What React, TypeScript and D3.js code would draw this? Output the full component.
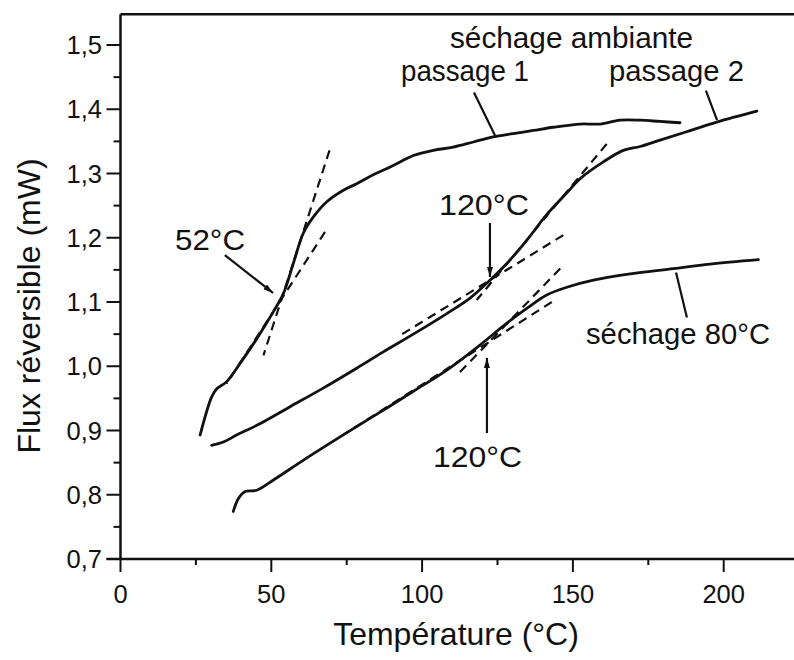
import React from "react";
import * as d3 from "d3";

// séchage ambiante, passage 1  [T (°C), flux (mW)]
const passage1: [number, number][] = [
  [26.4, 0.893], [30.2, 0.952], [31.9, 0.965], [35.2, 0.976], [39.6, 1.004],
  [45.2, 1.043], [50.7, 1.085], [54.0, 1.113], [57.3, 1.16], [60.6, 1.207],
  [63.9, 1.232], [68.4, 1.256], [73.9, 1.274], [78.3, 1.284], [83.8, 1.298],
  [88.0, 1.307], [92.7, 1.318], [97.1, 1.328], [103.7, 1.336], [110.3, 1.341],
  [117.0, 1.349], [123.6, 1.357], [130.2, 1.362], [136.9, 1.367], [143.5, 1.372],
  [152.4, 1.377], [159.0, 1.377], [165.6, 1.383], [172.3, 1.383], [178.9, 1.381],
  [185.5, 1.379],
];

// séchage ambiante, passage 2
const passage2: [number, number][] = [
  [30.2, 0.877], [34.1, 0.882], [38.5, 0.893], [45.2, 0.908], [56.2, 0.937],
  [67.2, 0.966], [78.3, 0.997], [87.0, 1.022], [97.1, 1.05], [108.2, 1.082],
  [115.9, 1.106], [122.5, 1.134], [128.1, 1.16], [134.7, 1.196], [141.3, 1.236],
  [148.0, 1.27], [152.4, 1.292], [160.1, 1.318], [166.7, 1.336],
  [172.3, 1.342], [178.9, 1.352], [187.7, 1.365], [197.7, 1.38], [211.0, 1.397],
];

// séchage 80°C
const sechage80: [number, number][] = [
  [37.4, 0.774], [39.1, 0.794], [41.3, 0.805], [45.2, 0.807], [50.7, 0.823],
  [61.7, 0.857], [72.8, 0.89], [83.8, 0.922], [89.0, 0.937], [97.1, 0.961],
  [108.2, 0.994], [119.2, 1.033], [128.1, 1.067], [134.7, 1.09], [141.3, 1.111],
  [148.0, 1.123], [156.8, 1.134], [167.8, 1.143], [183.3, 1.152], [195.5, 1.159],
  [211.5, 1.166],
];

// dashed tangents (end points)
const tangents: [number, number][][] = [
  [[69.3, 1.336], [47.4, 1.017]],
  [[67.8, 1.209], [35.2, 0.973]],
  [[161.2, 1.346], [118.1, 1.103]],
  [[146.8, 1.204], [92.7, 1.048]],
  [[145.8, 1.152], [111.5, 0.986]],
  [[143.0, 1.1], [72.8, 0.89]],
];

// arrows [from, to]
const arrows: [number, number][][] = [
  [[34.6, 1.173], [50.6, 1.114]],
  [[122.5, 1.223], [122.5, 1.139]],
  [[121.5, 0.896], [121.5, 1.013]],
];

// leader lines from labels to curves
const leaders: [number, number][][] = [
  [[117.2, 1.426], [124.5, 1.356]],
  [[194.1, 1.429], [197.8, 1.383]],
  [[184.2, 1.146], [187.8, 1.076]],
];

const xMajor = [0, 50, 100, 150, 200];
const xMinor = [25, 75, 125, 175];
const yMajor = [0.7, 0.8, 0.9, 1.0, 1.1, 1.2, 1.3, 1.4, 1.5];
const yMinor = [0.75, 0.85, 0.95, 1.05, 1.15, 1.25, 1.35, 1.45];

const W = 794;
const H = 660;

const App: React.FC = () => {
  const x = d3.scaleLinear().domain([0, 200]).range([120.5, 723.7]);
  const y = d3.scaleLinear().domain([0.7, 1.5]).range([559, 45]);

  const line = d3
    .line<[number, number]>()
    .x((d) => x(d[0]))
    .y((d) => y(d[1]))
    .curve(d3.curveCatmullRom.alpha(0.5));

  const straight = d3
    .line<[number, number]>()
    .x((d) => x(d[0]))
    .y((d) => y(d[1]));

  const yTop = y(1.548);
  const x0 = x(0);
  const y0 = y(0.7);
  const font = "'Liberation Sans', Arial, Helvetica, sans-serif";
  const ink = "#111";

  return (
    <div style={{ position: "absolute", left: 0, top: 0 }}>
      <svg width={W} height={H} style={{ display: "block", background: "#fff" }}>
        <defs>
          <marker
            id="head"
            viewBox="0 0 10 6"
            refX={10}
            refY={3}
            markerWidth={11}
            markerHeight={6}
            markerUnits="userSpaceOnUse"
            orient="auto"
          >
            <path d="M0,0 L10,3 L0,6 Z" fill={ink} />
          </marker>
        </defs>

        {/* frame: top line, left axis, bottom axis */}
        <g stroke={ink} strokeWidth={2.5} fill="none">
          <line x1={x0} y1={yTop} x2={W} y2={yTop} />
          <line x1={x0} y1={yTop} x2={x0} y2={y0} />
          <line x1={x0 - 14} y1={y0} x2={W} y2={y0} />
        </g>

        {/* ticks */}
        <g stroke={ink} strokeWidth={2}>
          {yMajor.map((v) => (
            <line key={"ym" + v} x1={x0 - 14} x2={x0} y1={y(v)} y2={y(v)} />
          ))}
          {yMinor.map((v) => (
            <line key={"yn" + v} x1={x0 - 7} x2={x0} y1={y(v)} y2={y(v)} />
          ))}
          {xMajor.map((v) => (
            <line key={"xm" + v} x1={x(v)} x2={x(v)} y1={y0} y2={y0 + 13} />
          ))}
          {xMinor.map((v) => (
            <line key={"xn" + v} x1={x(v)} x2={x(v)} y1={y0} y2={y0 + 6} />
          ))}
        </g>

        <g fontFamily={font} fontSize={25.5} fill={ink}>
          {yMajor.map((v) => (
            <text key={"yl" + v} x={102} y={y(v)} dy="0.36em" textAnchor="end">
              {v.toFixed(1).replace(".", ",")}
            </text>
          ))}
          {xMajor.map((v) => (
            <text key={"xl" + v} x={x(v)} y={603} textAnchor="middle">
              {v}
            </text>
          ))}
        </g>

        {/* axis titles */}
        <g fontFamily={font} fontSize={32} fill={ink}>
          <text x={456} y={645} textAnchor="middle">
            Température (°C)
          </text>
          <text transform={`translate(40,306) rotate(-90)`} textAnchor="middle">
            Flux réversible (mW)
          </text>
        </g>

        {/* curves */}
        <g stroke={ink} strokeWidth={2.8} fill="none" strokeLinejoin="round" strokeLinecap="round">
          <path d={line(passage1) ?? ""} />
          <path d={line(passage2) ?? ""} />
          <path d={line(sechage80) ?? ""} />
        </g>

        {/* tangents */}
        <g stroke={ink} strokeWidth={2.2} fill="none" strokeDasharray="9 6">
          {tangents.map((t, i) => (
            <path key={i} d={straight(t) ?? ""} />
          ))}
        </g>

        {/* leaders and arrows */}
        <g stroke={ink} strokeWidth={2.2} fill="none">
          {leaders.map((t, i) => (
            <path key={i} d={straight(t) ?? ""} />
          ))}
          {arrows.map((t, i) => (
            <path key={i} d={straight(t) ?? ""} markerEnd="url(#head)" />
          ))}
        </g>

        {/* annotations */}
        <g fontFamily={font} fontSize={29} fill={ink} lengthAdjust="spacingAndGlyphs">
          <text x={450} y={48} textLength={243} lengthAdjust="spacingAndGlyphs">séchage ambiante</text>
          <text x={401} y={81} textLength={128} lengthAdjust="spacingAndGlyphs">passage 1</text>
          <text x={609} y={81} textLength={135} lengthAdjust="spacingAndGlyphs">passage 2</text>
          <text x={586} y={344} textLength={184} lengthAdjust="spacingAndGlyphs">séchage 80°C</text>
          <text x={175} y={250} textLength={70} lengthAdjust="spacingAndGlyphs">52°C</text>
          <text x={439} y={215} textLength={90} lengthAdjust="spacingAndGlyphs">120°C</text>
          <text x={433} y={467} textLength={89} lengthAdjust="spacingAndGlyphs">120°C</text>
        </g>
      </svg>
    </div>
  );
};

export default App;
